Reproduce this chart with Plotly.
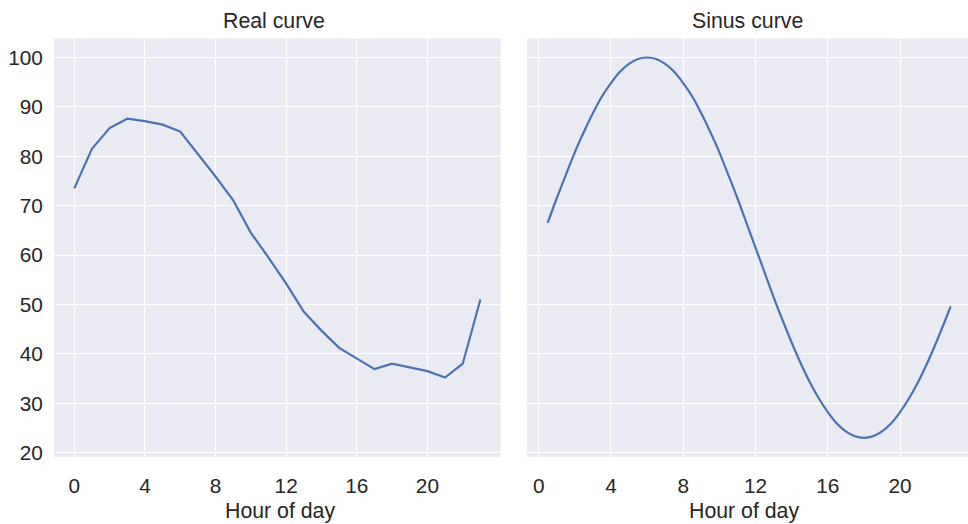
import plotly.graph_objects as go

# ---- data ----
real_hours = list(range(24))
real_values = [73.5, 81.5, 85.7, 87.6, 87.1, 86.4, 85.0, 80.5, 75.9, 71.1,
               64.5, 59.5, 54.2, 48.5, 44.7, 41.2, 39.1, 36.9, 38.0, 37.2,
               36.5, 35.2, 38.0, 51.0]

sinus_hours = [0.5, 1.0, 1.5, 2.0, 2.5, 3.0, 3.5, 4.0, 4.5, 5.0, 5.5, 6.0,
               6.5, 7.0, 7.5, 8.0, 8.5, 9.0, 9.5, 10.0, 10.5, 11.0, 11.5, 12.0,
               12.5, 13.0, 13.5, 14.0, 14.5, 15.0, 15.5, 16.0, 16.5, 17.0, 17.5, 18.0,
               18.5, 19.0, 19.5, 20.0, 20.5, 21.0, 21.5, 22.0, 22.5, 22.8]
sinus_values = [66.5, 71.5, 76.2, 80.8, 84.9, 88.7, 92.1, 94.8, 97.1, 98.7, 99.7, 100.0,
                99.7, 98.7, 97.1, 94.8, 92.1, 88.7, 84.9, 80.8, 76.2, 71.5, 66.5, 61.5,
                56.5, 51.5, 46.8, 42.3, 38.1, 34.3, 31.0, 28.2, 25.9, 24.3, 23.3, 23.0,
                23.3, 24.3, 25.9, 28.2, 31.0, 34.3, 38.1, 42.3, 46.8, 49.6]

x_ticks = [0, 4, 8, 12, 16, 20]
y_ticks = [20, 30, 40, 50, 60, 70, 80, 90, 100]
titles = ["Real curve", "Sinus curve"]
x_title = "Hour of day"

# ---- style ----
W, H = 968, 524
BG = "#EAEAF2"
LINE = "#4C72B0"
TXT = "#262626"
FONT = "Liberation Sans, Arial, sans-serif"
FS_TICK = 20.8
FS_TITLE = 21.3

fig = go.Figure()
fig.add_trace(go.Scatter(x=real_hours, y=real_values, mode="lines",
                         line=dict(color=LINE, width=2.2), xaxis="x", yaxis="y",
                         showlegend=False))
fig.add_trace(go.Scatter(x=sinus_hours, y=sinus_values, mode="lines",
                         line=dict(color=LINE, width=2.2, shape="spline"),
                         xaxis="x2", yaxis="y2", showlegend=False))

ydom = [1 - 463 / H, 1 - 39 / H]
common_x = dict(tickvals=x_ticks, showgrid=True, gridcolor="white", gridwidth=1.2,
                zeroline=False, showline=False, ticks="outside", ticklen=10,
                tickcolor="rgba(0,0,0,0)", tickfont=dict(size=FS_TICK, color=TXT, family=FONT))
fig.update_layout(
    width=W, height=H,
    margin=dict(l=0, r=0, t=0, b=0),
    paper_bgcolor="white", plot_bgcolor=BG,
    font=dict(family=FONT, size=FS_TICK, color=TXT),
    xaxis=dict(domain=[54 / W, 500.7 / W], range=[-1.15, 24.15], anchor="y", **common_x),
    xaxis2=dict(domain=[527 / W, 1.0], range=[-0.645, 23.76], anchor="y2", **common_x),
    yaxis=dict(domain=ydom, range=[19.15, 103.85], tickvals=y_ticks, anchor="x",
               showgrid=True, gridcolor="white", gridwidth=1.2, zeroline=False,
               showline=False, ticks="outside", ticklen=6, tickcolor="rgba(0,0,0,0)",
               tickfont=dict(size=FS_TICK, color=TXT, family=FONT)),
    yaxis2=dict(domain=ydom, range=[19.15, 103.85], tickvals=y_ticks, anchor="x2",
                showgrid=True, gridcolor="white", gridwidth=1.2, zeroline=False,
                showline=False, showticklabels=False),
)

ann = [
    (273.7, 21.3, titles[0]),
    (747.0, 21.3, titles[1]),
    (280.0, 518.0, x_title),
    (744.0, 518.0, x_title),
]
for x, y, t in ann:
    fig.add_annotation(x=x / W, y=1 - y / H, xref="paper", yref="paper",
                       text=t, showarrow=False, xanchor="center", yanchor="middle",
                       font=dict(size=FS_TITLE, color=TXT, family=FONT))

fig.write_html("out.html")
